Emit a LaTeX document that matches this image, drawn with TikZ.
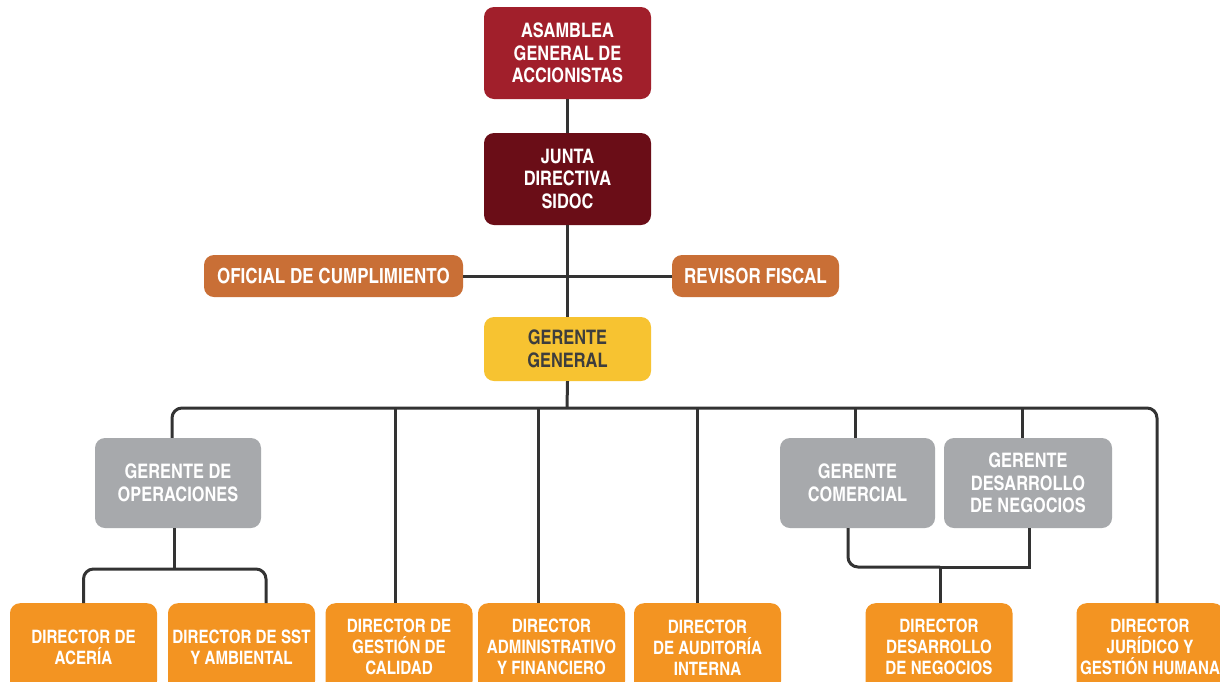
\documentclass[tikz,border=0pt]{standalone}
\usepackage{fontspec}
\setmainfont{texgyreheroscn}[Extension=.otf, UprightFont=*-regular, BoldFont=*-bold]
\definecolor{asamred}{HTML}{A11F2B}
\definecolor{juntared}{HTML}{6A0D17}
\definecolor{burnt}{HTML}{C96F36}
\definecolor{ggyellow}{HTML}{F7C331}
\definecolor{mgray}{HTML}{A7A9AC}
\definecolor{dorange}{HTML}{F39422}
\definecolor{linec}{HTML}{333333}
\definecolor{txtdark}{HTML}{3D3D3D}
\tikzset{
  box/.style={rectangle, rounded corners=10pt, inner sep=0pt, align=center,
    font=\fontsize{20}{22.5}\selectfont\bfseries, text=white},
  wide/.style={font=\fontsize{20.8}{22.5}\selectfont\bfseries},
  conn/.style={draw=linec, line width=3pt},
  dirbox/.style={box, fill=dorange, minimum width=147pt, minimum height=88pt, anchor=north,
    font=\fontsize{18.5}{21}\selectfont\bfseries},
  grbox/.style={box, fill=mgray, minimum height=90pt},
}
\begin{document}
\begin{tikzpicture}[x=1pt,y=-1pt]
\clip (0,0) rectangle (1220,681);
\fill[white] (0,0) rectangle (1220,681);
% nodes
\node[box, fill=asamred, minimum width=167pt, minimum height=92pt] (asam) at (567.5,53) {ASAMBLEA\\GENERAL DE\\ACCIONISTAS};
\node[box, fill=juntared, minimum width=167pt, minimum height=92pt] (junta) at (567.5,179) {JUNTA\\DIRECTIVA\\SIDOC};
\node[box, wide, fill=burnt, minimum width=259pt, minimum height=42pt] (oficial) at (333.5,276) {OFICIAL DE CUMPLIMIENTO};
\node[box, wide, fill=burnt, minimum width=167pt, minimum height=42pt] (revisor) at (755.5,276) {REVISOR FISCAL};
\node[box, fill=ggyellow, text=txtdark, minimum width=167pt, minimum height=64pt] (gg) at (567.5,349) {GERENTE\\GENERAL};
\node[grbox, minimum width=166pt] (gop) at (178,483) {GERENTE DE\\OPERACIONES};
\node[grbox, minimum width=155pt] (gcom) at (857.5,483) {GERENTE\\COMERCIAL};
\node[grbox, minimum width=168pt] (gdes) at (1028,483) {GERENTE\\DESARROLLO\\DE NEGOCIOS};
\node[dirbox] (dac) at (83.5,603) {DIRECTOR DE\\ACERÍA};
\node[dirbox] (dsst) at (241.5,603) {DIRECTOR DE SST\\Y AMBIENTAL};
\node[dirbox] (dgc) at (399,603) {DIRECTOR DE\\GESTIÓN DE\\CALIDAD};
\node[dirbox] (dadm) at (551.5,603) {DIRECTOR\\ADMINISTRATIVO\\Y FINANCIERO};
\node[dirbox] (daud) at (707.5,603) {DIRECTOR\\DE AUDITORÍA\\INTERNA};
\node[dirbox] (ddn) at (939,603) {DIRECTOR\\DESARROLLO\\DE NEGOCIOS};
\node[dirbox] (djur) at (1150,603) {DIRECTOR\\JURÍDICO Y\\GESTIÓN HUMANA};
% coordinates
\coordinate (bus) at (567,408);
\coordinate (opbus) at (174,569);
\coordinate (combus) at (940,567);
% connectors
\draw[conn] (asam.south) -- (junta.north);
\draw[conn] (junta.south) -- (gg.north);
\draw[conn] (oficial.east) -- (revisor.west);
\draw[conn] (gg.south) -- (bus);
\draw[conn, rounded corners=10pt] ([xshift=-6pt]gop.north) |- (bus) -| ([xshift=7pt]djur.north);
\draw[conn] ([xshift=-4pt]dgc.north) -- ([xshift=-4pt]dgc.north |- bus);
\draw[conn] ([xshift=-13.5pt]dadm.north) -- ([xshift=-13.5pt]dadm.north |- bus);
\draw[conn] ([xshift=-10.5pt]daud.north) -- ([xshift=-10.5pt]daud.north |- bus);
\draw[conn] ([xshift=-2.5pt]gcom.north) -- ([xshift=-2.5pt]gcom.north |- bus);
\draw[conn] ([xshift=-6pt]gdes.north) -- ([xshift=-6pt]gdes.north |- bus);
\draw[conn] ([xshift=-4pt]gop.south) -- (opbus);
\draw[conn, rounded corners=10pt] (dac.north) |- (opbus) -| ([xshift=24.5pt]dsst.north);
\draw[conn, rounded corners=10pt] ([xshift=-9.5pt]gcom.south) |- (combus);
\draw[conn] (combus) -| ([xshift=1pt]gdes.south);
\draw[conn] (combus) -- ([xshift=1pt]ddn.north);
\end{tikzpicture}
\end{document}
